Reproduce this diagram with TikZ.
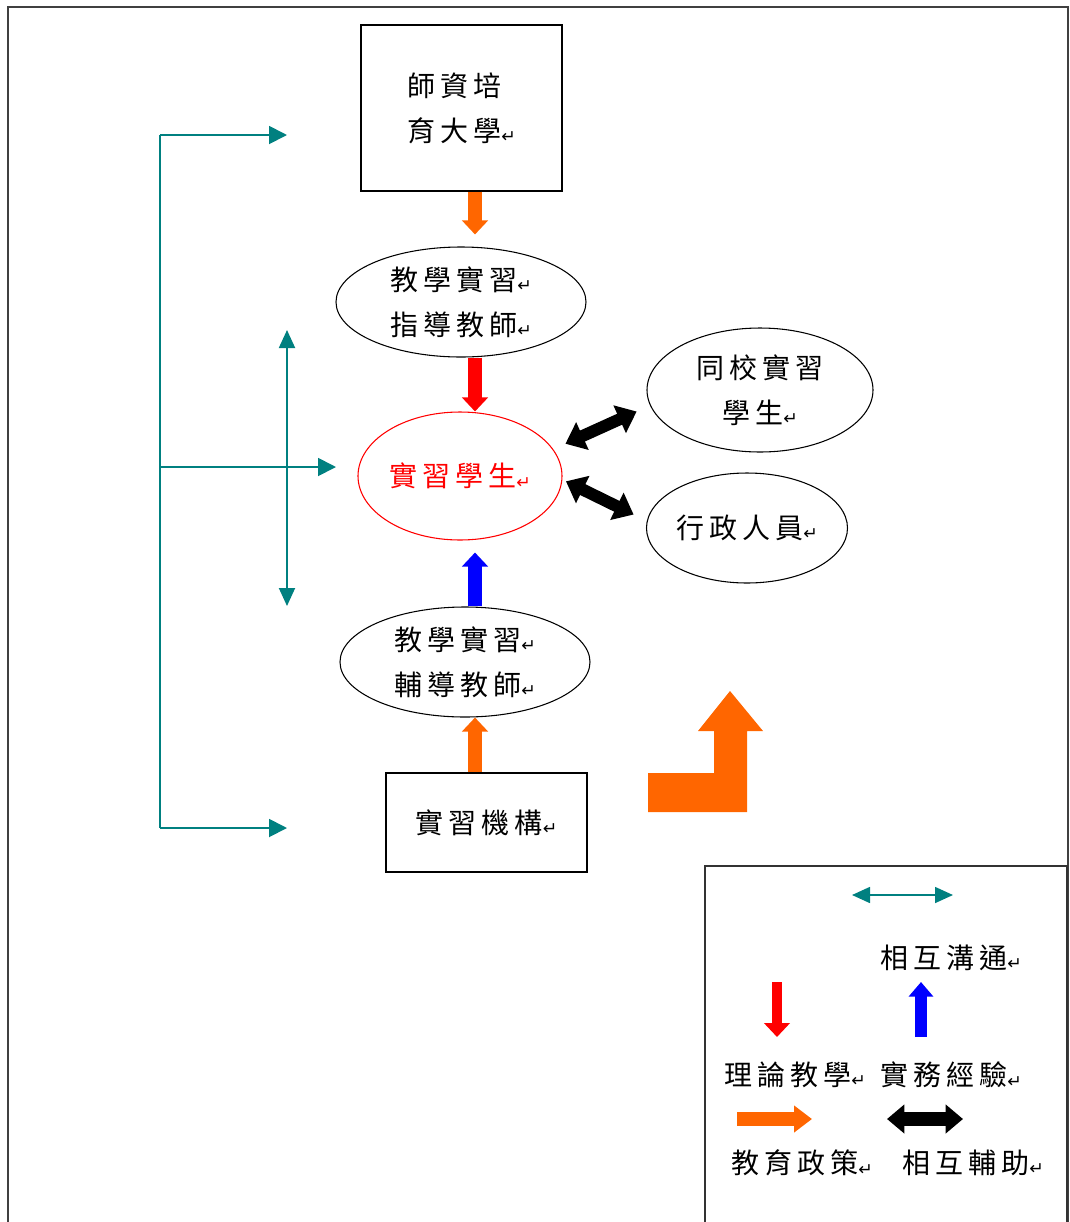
\documentclass[tikz,border=0pt]{standalone}
\usepackage{fontspec}
\setmainfont[LetterSpace=18]{Noto Sans CJK TC}
\newfontfamily\symfont{DejaVu Sans}
\usetikzlibrary{arrows.meta,calc,shapes.geometric}
\definecolor{CommClr}{HTML}{008080}
\definecolor{PolicyClr}{HTML}{FF6600}
\definecolor{TheoryClr}{HTML}{FF0000}
\definecolor{PracticeClr}{HTML}{0000FF}
\newcommand\parmark{{\symfont\fontsize{13}{13}\selectfont\raisebox{-1pt}{↵}}}

\tikzset{
  txt/.style={font=\fontsize{21}{33.75}\selectfont,align=left,inner sep=0pt},
  boxnode/.style={txt,draw,line width=1.1pt,rectangle},
  ovalnode/.style={txt,draw,line width=0.8pt,ellipse},
  commarr/.style={CommClr,line width=1.4pt,-{Triangle[length=13.5pt 0 0,width=13.5pt 0 0]}},
  commboth/.style={commarr,{Triangle[length=13.5pt 0 0,width=12pt 0 0]}-{Triangle[length=13.5pt 0 0,width=12pt 0 0]}},
  blkarr/.style={line width=10pt,-{Triangle[length=10.5pt 0 0,width=19pt 0 0]}},
  policy/.style={blkarr,PolicyClr},
  theory/.style={blkarr,TheoryClr},
  practice/.style={blkarr,PracticeClr},
  mutual/.style={black,line width=9pt,{Triangle[length=14pt 0 0,width=22pt 0 0]}-{Triangle[length=14pt 0 0,width=22pt 0 0]}}
}

\begin{document}
\begin{tikzpicture}[x=0.75pt,y=-0.75pt]
\useasboundingbox (0,0) rectangle (1070,1222);

% frame
\draw[line width=1.1pt,black!75] (8,1222) -- (8,7) -- (1068,7) -- (1068,1222);

% main nodes
\node[boxnode,minimum width=150.75pt,minimum height=124.5pt] (uni) at (461.5,108) {師資培\\育大學\parmark};
\node[ovalnode,minimum width=187.5pt,minimum height=82.5pt] (guide) at (461,302) {教學實習\parmark\\指導教師\parmark};
\node[ovalnode,draw=TheoryClr,text=TheoryClr,minimum width=153pt,minimum height=96pt] (student) at (460,476) {實習學生\parmark};
\node[ovalnode,minimum width=187.5pt,minimum height=82.5pt] (mentor) at (465,662) {教學實習\parmark\\輔導教師\parmark};
\node[boxnode,minimum width=150.75pt,minimum height=74.25pt] (org) at (486.5,822.5) {實習機構\parmark};
\node[ovalnode,align=center,minimum width=169.5pt,minimum height=93pt] (peer) at (760,390) {同校實習\\學生\parmark};
\node[ovalnode,minimum width=150.75pt,minimum height=82.5pt] (admin) at (747,528) {行政人員\parmark};

% vertical block arrows
\draw[policy,shorten >=9pt] ($(uni.south)+(13.5,0)$) -- ($(guide.north)+(14,0)$);
\draw[theory] ($(guide.south)+(14,0)$) -- ($(student.north)+(15,0)$);
\draw[practice,shorten >=9pt] ($(mentor.north)+(10,0)$) -- ($(student.south)+(15,0)$);
\draw[policy] ($(org.north)+(-11.5,0)$) -- ($(mentor.south)+(10,0)$);

% mutual help
\draw[mutual,shorten <=10pt,shorten >=11pt] (student.16) -- (peer.188);
\draw[mutual,shorten <=3pt,shorten >=11pt] (student.-2) -- (admin.176);

% communication lines
\coordinate (trunkTop) at (160,135);
\coordinate (trunkMid) at (160,467);
\coordinate (trunkBot) at (160,828);
\coordinate (tipTop) at (287,135);
\coordinate (tipMid) at (336,467);
\coordinate (tipBot) at (287,828);
\coordinate (vUp) at (287,330);
\coordinate (vDown) at (287,606);
\draw[CommClr,line width=1.4pt] (trunkTop) -- (trunkBot);
\draw[commarr] (trunkTop) -- (tipTop);
\draw[commarr] (trunkMid) -- (tipMid);
\draw[commarr] (trunkBot) -- (tipBot);
\draw[commboth] (vUp) -- (vDown);

% bent policy arrow
\fill[PolicyClr] (648,812) -- (648,773) -- (714,773) -- (714,731) -- (698,731)
  -- (730,691) -- (763,731) -- (747,731) -- (747,812) -- cycle;

% legend
\draw[line width=1.1pt,black!80] (705,1222) -- (705,866) -- (1067,866) -- (1067,1222);
\coordinate (commL) at (852,895);
\coordinate (commR) at (953,895);
\draw[commboth,line width=1.2pt] (commL) -- (commR);
\node[txt] (commTxt) at (951,958) {相互溝通\parmark};
\coordinate (theoryTop) at (777,982);
\coordinate (theoryBot) at (777,1037);
\draw[theory,line width=8pt] (theoryTop) -- (theoryBot);
\coordinate (practiceBot) at (921,1037);
\coordinate (practiceTop) at (921,982);
\draw[practice,line width=9.5pt,-{Triangle[length=11pt 0 0,width=18pt 0 0]}] (practiceBot) -- (practiceTop);
\node[txt] (theoryTxt) at (795,1075) {理論教學\parmark};
\node[txt] (practiceTxt) at (951,1075) {實務經驗\parmark};
\coordinate (policyL) at (737,1119);
\coordinate (policyR) at (812,1119);
\draw[policy,-{Triangle[length=13.5pt 0 0,width=19.5pt 0 0]}] (policyL) -- (policyR);
\coordinate (mutualL) at (887,1119);
\coordinate (mutualR) at (963,1119);
\draw[mutual,line width=10pt,{Triangle[length=13pt 0 0,width=21pt 0 0]}-{Triangle[length=13pt 0 0,width=21pt 0 0]}] (mutualL) -- (mutualR);
\node[txt] (policyTxt) at (802,1163) {教育政策\parmark};
\node[txt] (mutualTxt) at (973,1163) {相互輔助\parmark};

\end{tikzpicture}
\end{document}
